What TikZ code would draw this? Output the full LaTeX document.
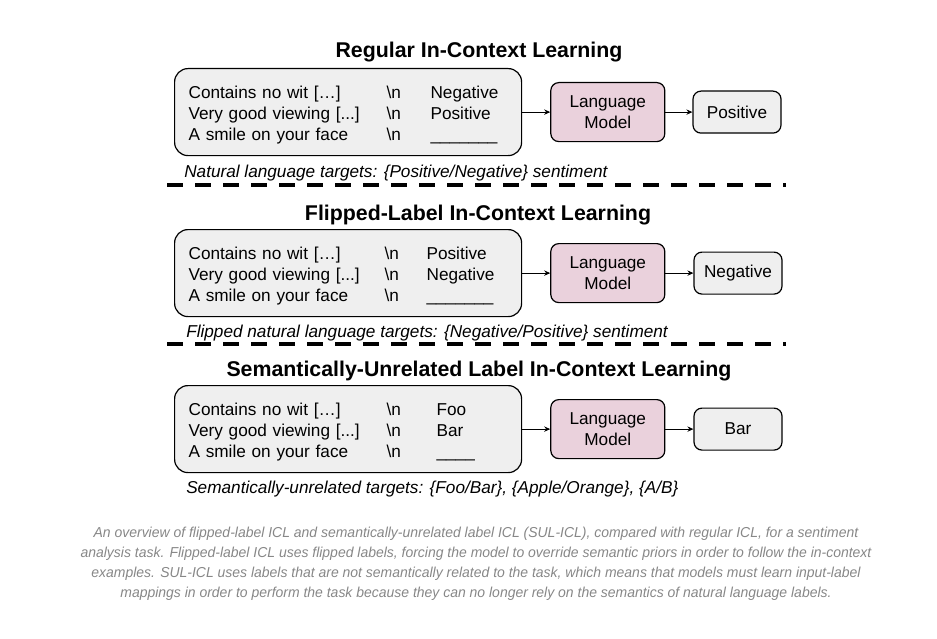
\documentclass[tikz,border=0pt]{standalone}
\usepackage{fontspec}
\setmainfont{Liberation Sans}
\newfontfamily\capfont[FakeStretch=0.97]{Liberation Sans}
\usetikzlibrary{arrows.meta, positioning}
\definecolor{lmPink}{RGB}{234,209,220}
\definecolor{boxGray}{RGB}{239,239,239}
\definecolor{capGray}{RGB}{135,135,135}

\begin{document}
\begin{tikzpicture}[
  x=0.75pt, y=-0.75pt,
  node distance=21pt,
  ctx/.style={rectangle, rounded corners=10pt, draw=black, line width=0.9pt,
              fill=boxGray, anchor=north west, inner xsep=10.5pt, inner ysep=0pt,
              text width=239.25pt, minimum height=65.25pt, align=left,
              font=\fontsize{12.9}{15.75}\selectfont},
  lm/.style={rectangle, rounded corners=6pt, draw=black, line width=0.9pt,
             fill=lmPink, minimum width=85.5pt, minimum height=44.25pt,
             align=center, font=\fontsize{12.9}{15.75}\selectfont},
  outbox/.style={rectangle, rounded corners=6pt, draw=black, line width=0.9pt,
                 fill=boxGray, minimum width=66pt, minimum height=31.5pt,
                 font=\fontsize{12.9}{15.75}\selectfont},
  arr/.style={-{Stealth[length=4.5pt, width=4pt]}, line width=0.75pt},
  title/.style={font=\fontsize{16}{19}\selectfont\bfseries},
  note/.style={anchor=west, inner sep=0pt, font=\fontsize{12.9}{15.75}\selectfont\itshape},
  sep/.style={line width=3pt, dash pattern=on 12pt off 9pt},
  captext/.style={align=center, text=capGray, font=\capfont\itshape\fontsize{10.8}{15}\selectfont},
]
\useasboundingbox (0,0) rectangle (937,638);

%% Regular ICL
\node[title] (t1) at (479,52) {Regular In-Context Learning};
\node[ctx] (ctx1) at (174,68) {\vspace*{-4.5pt}\begin{tabular}{@{}p{148.5pt}@{}p{33pt}@{}l@{}}
  Contains no wit […]     & \textbackslash n & Negative\\
  Very good viewing [...] & \textbackslash n & Positive\\
  A smile on your face    & \textbackslash n & \_\_\_\_\_\_\_
\end{tabular}};
\node[lm, right=21pt of ctx1] (lm1) {Language\\Model};
\node[outbox, right=20.25pt of lm1] (out1) {Positive};
\draw[arr] (ctx1) -- (lm1);
\draw[arr] (lm1) -- (out1);
\node[note] (n1) at (184,173) {Natural language targets: \{Positive/Negative\} sentiment};

\draw[sep] (167,185) -- (786,185);

%% Flipped-label ICL
\node[title] (t2) at (478,215) {Flipped-Label In-Context Learning};
\node[ctx] (ctx2) at (174,229) {\vspace*{-4.5pt}\begin{tabular}{@{}p{147pt}@{}p{31.5pt}@{}l@{}}
  Contains no wit […]     & \textbackslash n & Positive\\
  Very good viewing [...] & \textbackslash n & Negative\\
  A smile on your face    & \textbackslash n & \_\_\_\_\_\_\_
\end{tabular}};
\node[lm, right=21pt of ctx2] (lm2) {Language\\Model};
\node[outbox, right=21pt of lm2] (out2) {Negative};
\draw[arr] (ctx2) -- (lm2);
\draw[arr] (lm2) -- (out2);
\node[note] (n2) at (186,333) {Flipped natural language targets: \{Negative/Positive\} sentiment};

\draw[sep] (167,344) -- (786,344);

%% SUL-ICL
\node[title] (t3) at (479,371) {Semantically-Unrelated Label In-Context Learning};
\node[ctx] (ctx3) at (174,385) {\vspace*{-4.5pt}\begin{tabular}{@{}p{148.5pt}@{}p{37.5pt}@{}l@{}}
  Contains no wit […]     & \textbackslash n & Foo\\
  Very good viewing [...] & \textbackslash n & Bar\\
  A smile on your face    & \textbackslash n & \_\_\_\_
\end{tabular}};
\node[lm, right=21pt of ctx3] (lm3) {Language\\Model};
\node[outbox, right=21pt of lm3] (out3) {Bar};
\draw[arr] (ctx3) -- (lm3);
\draw[arr] (lm3) -- (out3);
\node[note] (n3) at (186,489) {Semantically-unrelated targets: \{Foo/Bar\}, \{Apple/Orange\}, \{A/B\}};

%% Caption
\node[captext] (caption) at (476,564) {An overview of flipped-label ICL and semantically-unrelated label ICL (SUL-ICL), compared with regular ICL, for a sentiment\\
analysis task. Flipped-label ICL uses flipped labels, forcing the model to override semantic priors in order to follow the in-context\\
examples. SUL-ICL uses labels that are not semantically related to the task, which means that models must learn input-label\\
mappings in order to perform the task because they can no longer rely on the semantics of natural language labels.};
\end{tikzpicture}
\end{document}
